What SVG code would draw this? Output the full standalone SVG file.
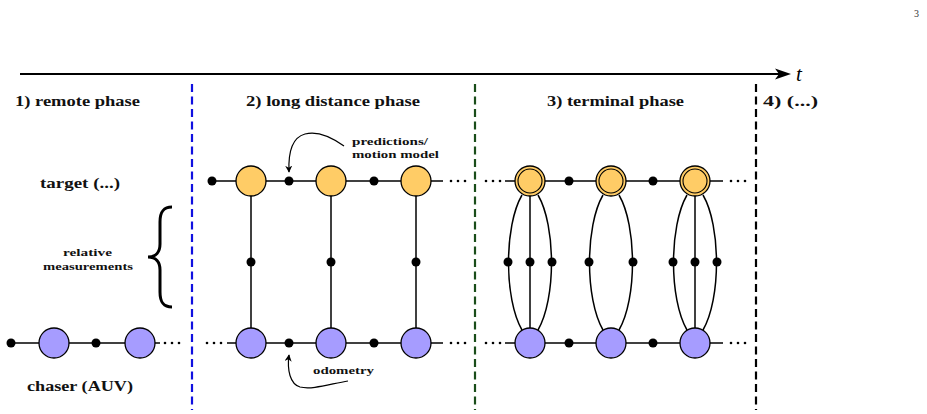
<svg xmlns="http://www.w3.org/2000/svg" width="927" height="414" viewBox="0 0 927 414">
<defs>
<style>
.t{fill:#ffcc66;stroke:#000;stroke-width:1.3}
.c{fill:#a69cff;stroke:#000;stroke-width:1.3}
.f{fill:#000}
.e{stroke:#000;stroke-width:1.5;fill:none}
.lbl{font-family:"Liberation Serif","Times New Roman",serif;font-weight:bold;fill:#111}
.h{font-size:15px}
.s{font-size:11px}
</style>
<marker id="ah" viewBox="0 0 10 10" refX="9" refY="5" markerWidth="7" markerHeight="7" orient="auto" markerUnits="userSpaceOnUse">
<path d="M0,0 L10,5 L0,10 L3,5 Z" fill="#000"/>
</marker>
</defs>
<rect width="927" height="414" fill="#fff"/>
<text x="914" y="17" font-family="'Liberation Serif', serif" font-size="10" fill="#333">3</text>
<g id="timeline">
<line x1="20" y1="74" x2="780" y2="74" stroke="#000" stroke-width="2"/>
<path d="M791,74 L775,68.5 L779,74 L775,79.5 Z" fill="#000"/>
<text x="796" y="81" font-family="'Liberation Serif', serif" font-style="italic" font-size="21">t</text>
</g>
<g id="separators" stroke-width="2.2" stroke-dasharray="8,4.5">
<line x1="192" y1="84" x2="192" y2="410" stroke="#1010e0"/>
<line x1="475" y1="84" x2="475" y2="410" stroke="#1a4d1a"/>
<line x1="756" y1="84" x2="756" y2="410" stroke="#000"/>
</g>
<g id="headers" class="lbl h">
<text x="15" y="106" textLength="125" lengthAdjust="spacingAndGlyphs">1) remote phase</text>
<text x="246" y="106" textLength="174" lengthAdjust="spacingAndGlyphs">2) long distance phase</text>
<text x="547" y="106" textLength="137" lengthAdjust="spacingAndGlyphs">3) terminal phase</text>
<text x="763" y="106" textLength="55" lengthAdjust="spacingAndGlyphs">4) (...)</text>
</g>
<g id="side-labels" class="lbl">
<text class="h" x="40" y="188" textLength="80" lengthAdjust="spacingAndGlyphs">target (...)</text>
<text class="h" x="27" y="391" textLength="106" lengthAdjust="spacingAndGlyphs">chaser (AUV)</text>
<text class="s" x="63" y="256" textLength="49" lengthAdjust="spacingAndGlyphs">relative</text>
<text class="s" x="43" y="269.5" textLength="90" lengthAdjust="spacingAndGlyphs">measurements</text>
</g>
<path id="brace" d="M172,207 C163,207 160,212 160,222 L160,244 C160,252 156,257 148,257 C156,257 160,262 160,270 L160,292 C160,302 163,307 172,307" fill="none" stroke="#000" stroke-width="3"/>
<g id="connectors" class="e">
<line x1="11" y1="343" x2="160" y2="343"/>
<line x1="212" y1="181" x2="443" y2="181"/>
<line x1="227" y1="343" x2="443" y2="343"/>
<line x1="251" y1="181" x2="251" y2="343"/>
<line x1="331" y1="181" x2="331" y2="343"/>
<line x1="416" y1="181" x2="416" y2="343"/>
<line x1="505" y1="181" x2="723" y2="181"/>
<line x1="505" y1="343" x2="723" y2="343"/>
<line x1="530" y1="181" x2="530" y2="343"/>
<line x1="695" y1="181" x2="695" y2="343"/>
<path d="M522,195 C504,226 504,299 522,330"/>
<path d="M538,195 C556,226 556,299 538,330"/>
<path d="M603,195 C585,226 585,299 603,330"/>
<path d="M619,195 C637,226 637,299 619,330"/>
<path d="M687,195 C669,226 669,299 687,330"/>
<path d="M703,195 C721,226 721,299 703,330"/>
<path d="M344,146 C330,136 316,131 305,134 C294,137 288,150 289,172" stroke-width="1.2" marker-end="url(#ah)"/>
<path d="M348,381 C330,384 312,390 300,387 C290,384 287,370 289,355" stroke-width="1.2" marker-end="url(#ah)"/>
</g>
<g id="ellipsis" class="f">
<circle cx="165" cy="343" r="1.3"/><circle cx="172" cy="343" r="1.3"/><circle cx="179" cy="343" r="1.3"/>
<circle cx="207" cy="343" r="1.3"/><circle cx="214" cy="343" r="1.3"/><circle cx="221" cy="343" r="1.3"/>
<circle cx="451" cy="181" r="1.3"/><circle cx="458" cy="181" r="1.3"/><circle cx="465" cy="181" r="1.3"/>
<circle cx="451" cy="343" r="1.3"/><circle cx="458" cy="343" r="1.3"/><circle cx="465" cy="343" r="1.3"/>
<circle cx="486" cy="181" r="1.3"/><circle cx="493" cy="181" r="1.3"/><circle cx="500" cy="181" r="1.3"/>
<circle cx="486" cy="343" r="1.3"/><circle cx="493" cy="343" r="1.3"/><circle cx="500" cy="343" r="1.3"/>
<circle cx="731" cy="181" r="1.3"/><circle cx="738" cy="181" r="1.3"/><circle cx="745" cy="181" r="1.3"/>
<circle cx="731" cy="343" r="1.3"/><circle cx="738" cy="343" r="1.3"/><circle cx="745" cy="343" r="1.3"/>
</g>
<g id="factors" class="f">
<circle cx="11" cy="343" r="4.5"/>
<circle cx="96" cy="343" r="4.5"/>
<circle cx="212" cy="181" r="4.5"/>
<circle cx="289" cy="181" r="4.5"/>
<circle cx="374" cy="181" r="4.5"/>
<circle cx="289" cy="343" r="4.5"/>
<circle cx="374" cy="343" r="4.5"/>
<circle cx="251" cy="262" r="4.5"/>
<circle cx="331" cy="262" r="4.5"/>
<circle cx="416" cy="262" r="4.5"/>
<circle cx="569" cy="181" r="4.5"/>
<circle cx="653" cy="181" r="4.5"/>
<circle cx="569" cy="343" r="4.5"/>
<circle cx="653" cy="343" r="4.5"/>
<circle cx="508" cy="262" r="4.5"/><circle cx="530" cy="262" r="4.5"/><circle cx="552" cy="262" r="4.5"/>
<circle cx="589" cy="262" r="4.5"/><circle cx="633" cy="262" r="4.5"/>
<circle cx="673" cy="262" r="4.5"/><circle cx="695" cy="262" r="4.5"/><circle cx="717" cy="262" r="4.5"/>
</g>
<g id="chaser-remote-1"><circle class="c" cx="54" cy="343" r="15"/></g>
<g id="chaser-remote-2"><circle class="c" cx="140" cy="343" r="15"/></g>
<g id="target-ld-1"><circle class="t" cx="251" cy="181" r="15"/></g>
<g id="target-ld-2"><circle class="t" cx="331" cy="181" r="15"/></g>
<g id="target-ld-3"><circle class="t" cx="416" cy="181" r="15"/></g>
<g id="chaser-ld-1"><circle class="c" cx="251" cy="343" r="15"/></g>
<g id="chaser-ld-2"><circle class="c" cx="331" cy="343" r="15"/></g>
<g id="chaser-ld-3"><circle class="c" cx="416" cy="343" r="15"/></g>
<g id="target-term-1"><circle class="t" cx="530" cy="181" r="15"/><circle cx="530" cy="181" r="12" fill="none" stroke="#000" stroke-width="1.1"/></g>
<g id="target-term-2"><circle class="t" cx="611" cy="181" r="15"/><circle cx="611" cy="181" r="12" fill="none" stroke="#000" stroke-width="1.1"/></g>
<g id="target-term-3"><circle class="t" cx="695" cy="181" r="15"/><circle cx="695" cy="181" r="12" fill="none" stroke="#000" stroke-width="1.1"/></g>
<g id="chaser-term-1"><circle class="c" cx="530" cy="343" r="15"/></g>
<g id="chaser-term-2"><circle class="c" cx="611" cy="343" r="15"/></g>
<g id="chaser-term-3"><circle class="c" cx="695" cy="343" r="15"/></g>
<g id="annotations" class="lbl s">
<text x="352" y="145" textLength="76" lengthAdjust="spacingAndGlyphs">predictions/</text>
<text x="352" y="158" textLength="87" lengthAdjust="spacingAndGlyphs">motion model</text>
<text x="313" y="374" textLength="61" lengthAdjust="spacingAndGlyphs">odometry</text>
</g>
</svg>
